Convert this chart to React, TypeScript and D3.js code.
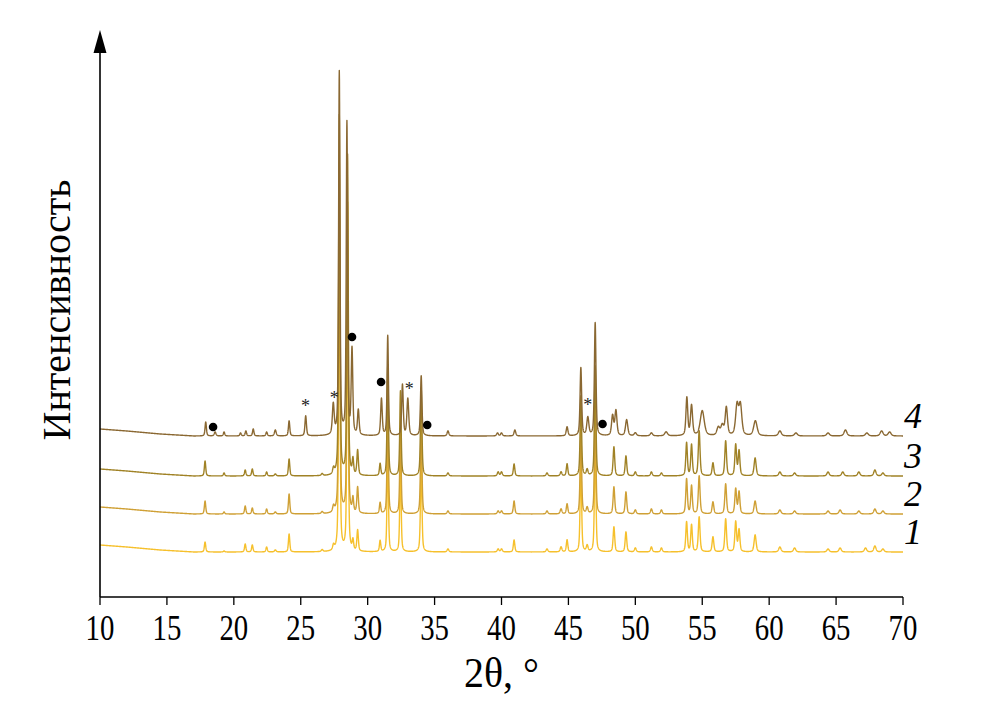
import React from 'react';
import * as d3 from 'd3';

const X_TICKS = [10, 15, 20, 25, 30, 35, 40, 45, 50, 55, 60, 65, 70];
const CURVE_LABELS = ['1', '2', '3', '4'];
const CURVE_COLORS = ['#F6C02C', '#CFA035', '#A08226', '#8A6832'];

// baseline knots [2θ, intensity]
const BASE_1 = [[10, 52], [12, 50], [14.5, 47], [17, 45], [70, 45]];
const BASE_2 = [[10, 90], [12, 88], [14.5, 85], [17, 83], [70, 83]];
const BASE_3 = [[10, 128], [12, 126], [14.5, 123], [17, 121], [70, 121]];
const BASE_4 = [[10, 168], [12, 166], [14.5, 163], [17, 161], [70, 161]];

// peaks [2θ, height, fwhm]
const PEAKS_1 = [
  [17.85, 10, 0.12], [19.27, 1, 0.12], [20.85, 8, 0.12], [21.38, 7, 0.12], [22.45, 5, 0.12],
  [23.1, 2, 0.15], [24.13, 18, 0.12], [26.6, 2, 0.15], [27.45, 5, 0.15], [27.88, 340, 0.12],
  [28.5, 300, 0.12], [28.9, 10, 0.12], [29.25, 21, 0.13], [30.93, 11, 0.12], [31.5, 105, 0.12],
  [32.45, 90, 0.12], [34.0, 90, 0.13], [36.0, 3, 0.15], [39.75, 3, 0.15], [40.0, 3, 0.15],
  [40.94, 12, 0.13], [43.4, 3, 0.15], [44.45, 5, 0.15], [44.9, 12, 0.13], [45.93, 90, 0.13],
  [46.4, 6, 0.15], [47.0, 110, 0.13], [48.4, 25, 0.14], [49.3, 20, 0.14], [50.0, 4, 0.15],
  [51.2, 5, 0.15], [51.95, 4, 0.15], [53.83, 30, 0.14], [54.2, 27, 0.14], [54.77, 35, 0.15],
  [55.8, 15, 0.15], [56.75, 33, 0.15], [57.5, 30, 0.15], [57.75, 22, 0.15], [58.95, 17, 0.18],
  [60.8, 5, 0.2], [61.9, 4, 0.2], [64.4, 3, 0.2], [65.3, 4, 0.2], [67.2, 4, 0.2],
  [67.9, 6, 0.2], [68.5, 3, 0.2],
];
const PEAKS_2 = [
  [17.85, 13, 0.12], [19.27, 2, 0.12], [20.85, 8, 0.12], [21.38, 6, 0.12], [22.45, 5, 0.12],
  [23.1, 2, 0.15], [24.13, 20, 0.12], [26.6, 2, 0.15], [27.45, 6, 0.15], [27.88, 350, 0.12],
  [28.5, 310, 0.12], [28.9, 14, 0.12], [29.25, 26, 0.13], [30.93, 11, 0.12], [31.5, 108, 0.12],
  [32.45, 88, 0.12], [34.0, 88, 0.13], [36.0, 3, 0.15], [39.75, 3, 0.15], [40.0, 3, 0.15],
  [40.94, 13, 0.13], [43.4, 3, 0.15], [44.45, 5, 0.15], [44.9, 10, 0.13], [45.93, 85, 0.13],
  [46.4, 6, 0.15], [47.0, 105, 0.13], [48.4, 27, 0.14], [49.3, 22, 0.14], [50.0, 4, 0.15],
  [51.2, 5, 0.15], [51.95, 4, 0.15], [53.83, 35, 0.14], [54.2, 28, 0.14], [54.77, 38, 0.15],
  [55.8, 12, 0.15], [56.75, 30, 0.15], [57.5, 25, 0.15], [57.75, 22, 0.15], [58.95, 13, 0.18],
  [60.8, 4, 0.2], [61.9, 3, 0.2], [64.4, 3, 0.2], [65.3, 4, 0.2], [66.7, 3, 0.2],
  [67.9, 5, 0.2], [68.5, 3, 0.2],
];
const PEAKS_3 = [
  [17.85, 15, 0.12], [19.27, 3, 0.12], [20.85, 6, 0.12], [21.38, 7, 0.12], [22.45, 4, 0.12],
  [23.1, 2, 0.15], [24.13, 17, 0.12], [26.6, 2, 0.15], [27.45, 6, 0.15], [27.88, 360, 0.12],
  [28.5, 320, 0.12], [28.9, 15, 0.12], [29.25, 25, 0.13], [30.93, 12, 0.12], [31.5, 110, 0.12],
  [32.45, 85, 0.12], [34.0, 88, 0.13], [36.0, 3, 0.15], [39.75, 4, 0.15], [40.0, 4, 0.15],
  [40.94, 12, 0.13], [43.4, 3, 0.15], [44.45, 4, 0.15], [44.9, 12, 0.13], [45.93, 80, 0.13],
  [46.4, 6, 0.15], [47.0, 110, 0.13], [48.4, 29, 0.14], [49.3, 20, 0.14], [50.0, 4, 0.15],
  [51.2, 4, 0.15], [51.95, 3, 0.15], [53.83, 33, 0.14], [54.2, 31, 0.14], [54.77, 45, 0.15],
  [55.8, 13, 0.15], [56.75, 35, 0.15], [57.5, 31, 0.15], [57.75, 25, 0.15], [58.95, 18, 0.18],
  [60.8, 4, 0.2], [61.9, 3, 0.2], [64.4, 4, 0.2], [65.5, 4, 0.2], [66.7, 4, 0.2],
  [67.9, 6, 0.2], [68.5, 3, 0.2],
];
const PEAKS_4 = [
  [17.9, 14, 0.12], [18.6, 4, 0.15], [19.27, 4, 0.12], [20.5, 3, 0.12], [20.9, 5, 0.12],
  [21.45, 7, 0.12], [22.45, 4, 0.12], [23.1, 6, 0.15], [24.13, 15, 0.12], [25.37, 20, 0.13],
  [27.43, 30, 0.16], [27.88, 363, 0.12], [28.45, 312, 0.12], [28.83, 85, 0.14], [29.3, 25, 0.14],
  [31.03, 37, 0.14], [31.5, 100, 0.12], [32.6, 51, 0.14], [33.0, 37, 0.16], [34.0, 60, 0.13],
  [36.0, 5, 0.15], [39.7, 3, 0.15], [40.0, 3, 0.15], [41.0, 6, 0.15], [44.9, 9, 0.15],
  [45.93, 68, 0.14], [46.45, 18, 0.18], [47.0, 113, 0.14], [48.3, 20, 0.18], [48.55, 25, 0.18],
  [49.35, 16, 0.2], [50.0, 3, 0.2], [51.2, 3, 0.2], [52.3, 4, 0.25], [53.85, 38, 0.16],
  [54.2, 30, 0.18], [55.0, 25, 0.35], [56.2, 8, 0.25], [56.5, 10, 0.25], [56.8, 28, 0.2],
  [57.6, 30, 0.25], [57.85, 30, 0.25], [58.97, 15, 0.3], [60.8, 5, 0.25], [62.0, 3, 0.25],
  [64.4, 3, 0.25], [65.7, 6, 0.25], [67.3, 3, 0.25], [68.4, 5, 0.25], [69.0, 4, 0.25],
];

const BASES = [BASE_1, BASE_2, BASE_3, BASE_4];
const PEAKS = [PEAKS_1, PEAKS_2, PEAKS_3, PEAKS_4];

// marker positions [2θ, intensity]
const DOT_MARKS = [[18.45, 170], [28.83, 260], [31.0, 215], [34.45, 172], [47.55, 173]];
const STAR_MARKS = [[25.35, 194], [27.5, 202], [33.1, 211], [46.45, 195]];

const W = 1004;
const H = 704;
const X0 = 100, X1 = 903, Y0 = 597, YTOP = 30;
const FONT = '"Liberation Serif", "Times New Roman", serif';

export default function App() {
  const x = d3.scaleLinear().domain([10, 70]).range([X0, X1]);
  const y = d3.scaleLinear().domain([0, Y0 - YTOP]).range([Y0, YTOP]);

  const grid = d3.range(10, 70.0001, 0.01);
  const curves = PEAKS.map((peaks, i) => {
    const base = BASES[i];
    const bx = base.map((b) => b[0]);
    const by = base.map((b) => b[1]);
    const baseScale = d3.scaleLinear().domain(bx).range(by);
    const pts = grid.map((t) => {
      let v = baseScale(t);
      for (const [p, h, w] of peaks) {
        const z = (t - p) / (w / 2);
        const lor = 1 / (1 + z * z);
        const gau = Math.exp(-Math.LN2 * z * z);
        v += h * (0.5 * lor + 0.5 * gau);
      }
      return [t, v] as [number, number];
    });
    const line = d3.line<[number, number]>().x((d) => x(d[0])).y((d) => y(d[1]));
    return { d: line(pts) || '', color: CURVE_COLORS[i], endBase: by[by.length - 1] };
  });

  return (
    <div style={{ position: 'absolute', left: 0, top: 0 }}>
      <svg width={W} height={H} style={{ display: 'block', background: '#fff' }}>
        <rect x={0} y={0} width={W} height={H} fill="#fff" />
        {curves.map((c, i) => (
          <path key={i} d={c.d} fill="none" stroke={c.color} strokeWidth={1.4} strokeLinejoin="round" />
        ))}
        {/* y axis with arrow */}
        <line x1={X0} y1={Y0} x2={X0} y2={50} stroke="#000" strokeWidth={1.6} />
        <path d={`M${X0},${YTOP} L${X0 - 6.5},${YTOP + 23} L${X0 + 6.5},${YTOP + 23} Z`} fill="#000" />
        {/* x axis */}
        <line x1={X0} y1={Y0} x2={X1} y2={Y0} stroke="#000" strokeWidth={1.6} />
        {X_TICKS.map((t) => (
          <g key={t}>
            <line x1={x(t)} y1={Y0} x2={x(t)} y2={Y0 + 8} stroke="#000" strokeWidth={1.3} />
            <text
              x={0}
              y={0}
              transform={`translate(${x(t)},${Y0 + 43}) scale(0.8,1)`}
              textAnchor="middle"
              fontFamily={FONT}
              fontSize={36}
              fill="#000"
            >
              {t}
            </text>
          </g>
        ))}
        <text
          x={0}
          y={0}
          transform={`translate(${(X0 + X1) / 2},${Y0 + 90}) scale(0.95,1)`}
          textAnchor="middle"
          fontFamily={FONT}
          fontSize={42}
          fill="#000"
        >
          2θ, °
        </text>
        <text
          x={0}
          y={0}
          transform={`translate(70,310) rotate(-90)`}
          textAnchor="middle"
          fontFamily={FONT}
          fontSize={40}
          fill="#000"
        >
          Интенсивность
        </text>
        {curves.map((c, i) => (
          <text
            key={'l' + i}
            x={X1 + 1}
            y={y(c.endBase) - 8}
            fontFamily={FONT}
            fontStyle="italic"
            fontSize={36}
            fill="#000"
          >
            {CURVE_LABELS[i]}
          </text>
        ))}
        {DOT_MARKS.map(([t, v], i) => (
          <circle key={'d' + i} cx={x(t)} cy={y(v)} r={4.3} fill="#000" />
        ))}
        {STAR_MARKS.map(([t, v], i) => (
          <text
            key={'s' + i}
            x={x(t)}
            y={y(v) + 9}
            textAnchor="middle"
            fontFamily={FONT}
            fontSize={18}
            fill="#222"
          >
            *
          </text>
        ))}
      </svg>
    </div>
  );
}
